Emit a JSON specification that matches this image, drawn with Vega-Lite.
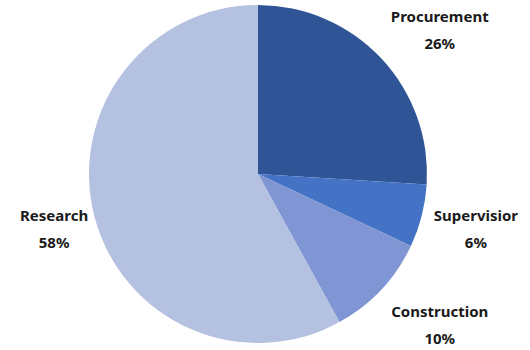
{
  "$schema": "https://vega.github.io/schema/vega-lite/v6.json",
  "width": 516,
  "height": 348,
  "autosize": "none",
  "padding": {"left": 0, "top": 0, "right": 14, "bottom": 2},
  "background": "white",
  "data": {
    "values": [
      {"idx": 1, "category": "Procurement", "pct": 26},
      {"idx": 2, "category": "Supervisior", "pct": 6},
      {"idx": 3, "category": "Construction", "pct": 10},
      {"idx": 4, "category": "Research", "pct": 58}
    ]
  },
  "transform": [
    {"stack": "pct", "groupby": [], "sort": [{"field": "idx"}], "as": ["s0", "s1"]},
    {"calculate": "(datum.s0 + datum.s1) / 2", "as": "mid"},
    {"calculate": "[datum.category, datum.pct + '%']", "as": "label"}
  ],
  "layer": [
    {
      "mark": {"type": "arc", "outerRadius": 169},
      "encoding": {
        "theta": {"field": "s0", "type": "quantitative", "scale": {"domain": [0, 100]}},
        "theta2": {"field": "s1"},
        "color": {
          "field": "category",
          "type": "nominal",
          "scale": {
            "domain": ["Procurement", "Supervisior", "Construction", "Research"],
            "range": ["#2F5597", "#4472C4", "#8096D4", "#B4C1E1"]
          },
          "legend": null
        }
      }
    },
    {
      "transform": [{"filter": "datum.category === 'Procurement'"}],
      "mark": {"type": "text", "radius": 226, "dx": 17, "dy": -2, "font": "Noto Sans", "fontWeight": "bold", "fontSize": 15, "lineHeight": 27, "color": "#1a1a1a", "align": "center", "baseline": "middle"},
      "encoding": {
        "theta": {"field": "mid", "type": "quantitative", "scale": {"domain": [0, 100]}},
        "text": {"field": "label"}
      }
    },
    {
      "transform": [{"filter": "datum.category === 'Supervisior'"}],
      "mark": {"type": "text", "radius": 226, "dx": -1, "dy": -14, "font": "Noto Sans", "fontWeight": "bold", "fontSize": 15, "lineHeight": 27, "color": "#1a1a1a", "align": "center", "baseline": "middle"},
      "encoding": {
        "theta": {"field": "mid", "type": "quantitative", "scale": {"domain": [0, 100]}},
        "text": {"field": "label"}
      }
    },
    {
      "transform": [{"filter": "datum.category === 'Construction'"}],
      "mark": {"type": "text", "radius": 226, "dx": 17, "dy": -17, "font": "Noto Sans", "fontWeight": "bold", "fontSize": 15, "lineHeight": 27, "color": "#1a1a1a", "align": "center", "baseline": "middle"},
      "encoding": {
        "theta": {"field": "mid", "type": "quantitative", "scale": {"domain": [0, 100]}},
        "text": {"field": "label"}
      }
    },
    {
      "transform": [{"filter": "datum.category === 'Research'"}],
      "mark": {"type": "text", "radius": 226, "dx": 15, "dy": -14, "font": "Noto Sans", "fontWeight": "bold", "fontSize": 15, "lineHeight": 27, "color": "#1a1a1a", "align": "center", "baseline": "middle"},
      "encoding": {
        "theta": {"field": "mid", "type": "quantitative", "scale": {"domain": [0, 100]}},
        "text": {"field": "label"}
      }
    }
  ]
}
